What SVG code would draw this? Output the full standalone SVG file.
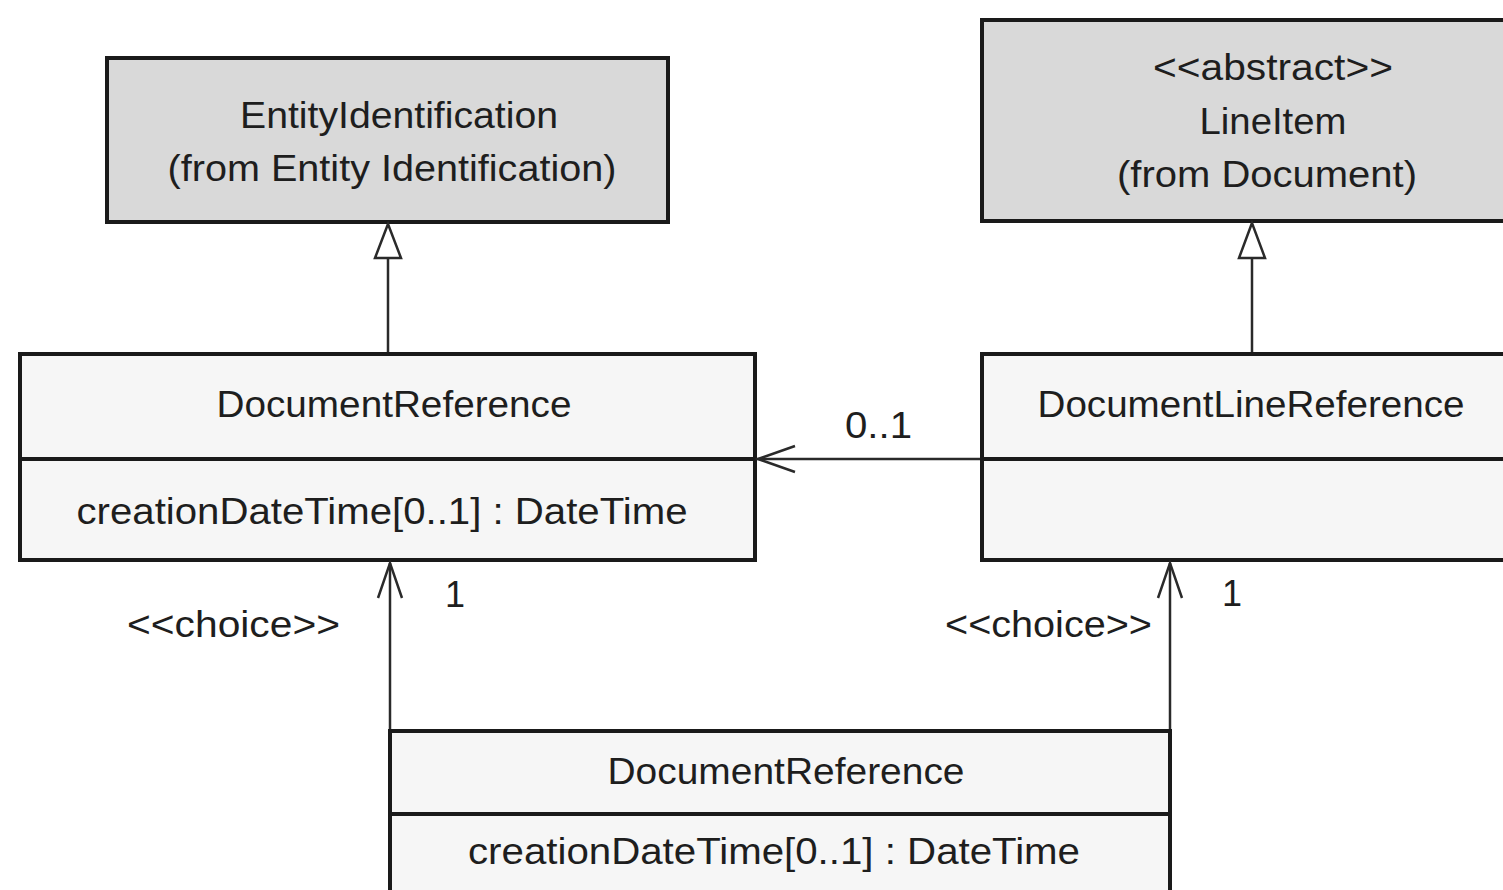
<svg xmlns="http://www.w3.org/2000/svg" width="1503" height="890" viewBox="0 0 1503 890">
<style>
.box{stroke:#1a1a1a;stroke-width:4;}
.grey{fill:#d9d9d9;}
.light{fill:#f6f6f6;}
.div{stroke:#1a1a1a;stroke-width:4;}
.t{font-family:"Liberation Sans",Arial,sans-serif;font-size:36px;fill:#1e1e1e;}
.c{text-anchor:middle;}
.conn{stroke:#2a2a2a;stroke-width:2.5;fill:none;}
</style>
<rect width="1503" height="890" fill="#ffffff"/>
<g id="entityIdentification">
<rect class="box grey" x="107" y="58" width="561" height="164"/>
<text class="t c" x="399" y="128" textLength="318" lengthAdjust="spacingAndGlyphs">EntityIdentification</text>
<text class="t c" x="392" y="181" textLength="449" lengthAdjust="spacingAndGlyphs">(from Entity Identification)</text>
</g>
<g id="lineItem">
<rect class="box grey" x="982" y="20" width="540" height="201"/>
<text class="t c" x="1273" y="80" textLength="240" lengthAdjust="spacingAndGlyphs">&lt;&lt;abstract&gt;&gt;</text>
<text class="t c" x="1273" y="134" textLength="147" lengthAdjust="spacingAndGlyphs">LineItem</text>
<text class="t c" x="1267" y="187" textLength="300" lengthAdjust="spacingAndGlyphs">(from Document)</text>
</g>
<g id="documentReference">
<rect class="box light" x="20" y="354" width="735" height="206"/>
<line class="div" x1="20" y1="459" x2="755" y2="459"/>
<text class="t c" x="394" y="417" textLength="355" lengthAdjust="spacingAndGlyphs">DocumentReference</text>
<text class="t c" x="382" y="524" textLength="611" lengthAdjust="spacingAndGlyphs">creationDateTime[0..1] : DateTime</text>
</g>
<g id="documentLineReference">
<rect class="box light" x="982" y="354" width="540" height="206"/>
<line class="div" x1="982" y1="459" x2="1522" y2="459"/>
<text class="t c" x="1251" y="417" textLength="427" lengthAdjust="spacingAndGlyphs">DocumentLineReference</text>
</g>
<g id="documentReferenceChoice">
<rect class="box light" x="390" y="731" width="780" height="180"/>
<line class="div" x1="390" y1="814" x2="1170" y2="814"/>
<text class="t c" x="786" y="784" textLength="357" lengthAdjust="spacingAndGlyphs">DocumentReference</text>
<text class="t c" x="774" y="864" textLength="612" lengthAdjust="spacingAndGlyphs">creationDateTime[0..1] : DateTime</text>
</g>
<g id="connectors">
<line class="conn" x1="388" y1="352" x2="388" y2="258"/>
<polygon class="conn" points="388,224 375,258 401,258" fill="#ffffff"/>
<line class="conn" x1="1252" y1="352" x2="1252" y2="258"/>
<polygon class="conn" points="1252,223 1239,258 1265,258" fill="#ffffff"/>
<line class="conn" x1="980" y1="459" x2="757" y2="459"/>
<polyline class="conn" points="795,446 758,459 795,472"/>
<line class="conn" x1="390" y1="729" x2="390" y2="563"/>
<polyline class="conn" points="378,598 390,563 402,598"/>
<line class="conn" x1="1170" y1="729" x2="1170" y2="563"/>
<polyline class="conn" points="1158,598 1170,563 1182,598"/>
<text class="t" x="845" y="438" textLength="67" lengthAdjust="spacingAndGlyphs">0..1</text>
<text class="t" x="445" y="607">1</text>
<text class="t" x="1222" y="606">1</text>
<text class="t" x="127" y="637" textLength="213" lengthAdjust="spacingAndGlyphs">&lt;&lt;choice&gt;&gt;</text>
<text class="t" x="945" y="637" textLength="207" lengthAdjust="spacingAndGlyphs">&lt;&lt;choice&gt;&gt;</text>
</g>
</svg>
